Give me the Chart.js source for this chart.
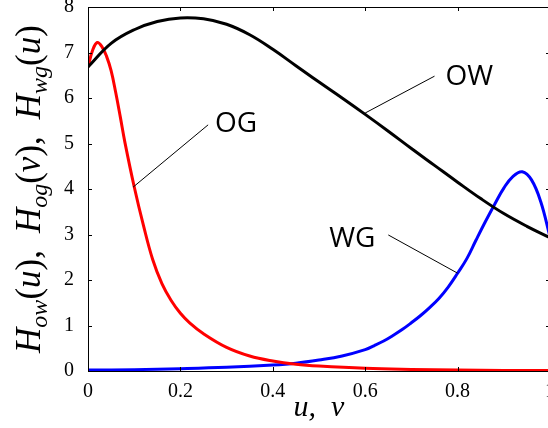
<!DOCTYPE html>
<html>
<head>
<meta charset="utf-8">
<script src="https://cdn.jsdelivr.net/npm/chart.js@4"></script>
<style>
  html, body { margin: 0; padding: 0; background: #fff; overflow: hidden; }
  #wrap { position: absolute; left: 0; top: 0; width: 550px; height: 428px; }
</style>
</head>
<body>
<div id="wrap"><canvas id="chart"></canvas></div>
<script>
// OW curve, H_ow(u)
const owU = [0, 0.05, 0.1, 0.15, 0.2, 0.25, 0.3, 0.35, 0.4, 0.45, 0.5, 0.55, 0.6, 0.65, 0.7, 0.75, 0.8, 0.85, 0.9, 0.95, 1];
const owH = [6.68, 7.20, 7.50, 7.68, 7.76, 7.74, 7.62, 7.39, 7.07, 6.71, 6.35, 6.00, 5.64, 5.27, 4.89, 4.52, 4.15, 3.79, 3.46, 3.18, 2.93];

// OG curve, H_og(v)
const ogV = [0, 0.01, 0.02, 0.03, 0.04, 0.05, 0.06, 0.07, 0.08, 0.1, 0.12, 0.14, 0.16, 0.18, 0.2, 0.22, 0.25, 0.3, 0.35, 0.4, 0.45, 0.5, 0.6, 0.7, 0.8, 0.9, 1];
const ogH = [6.68, 7.05, 7.22, 7.13, 6.92, 6.60, 6.12, 5.58, 5.02, 4.05, 3.20, 2.45, 1.92, 1.55, 1.27, 1.06, 0.82, 0.52, 0.33, 0.22, 0.15, 0.11, 0.06, 0.035, 0.02, 0.01, 0.01];

// WG curve, H_wg(u)
const wgU = [0, 0.1, 0.2, 0.3, 0.4, 0.45, 0.5, 0.55, 0.6, 0.62, 0.64, 0.66, 0.68, 0.7, 0.72, 0.74, 0.76, 0.78, 0.8, 0.82, 0.84, 0.86, 0.88, 0.9, 0.92, 0.94, 0.96, 0.98, 1];
const wgH = [0.02, 0.03, 0.05, 0.08, 0.13, 0.17, 0.24, 0.33, 0.47, 0.56, 0.66, 0.78, 0.91, 1.06, 1.22, 1.40, 1.60, 1.85, 2.15, 2.47, 2.88, 3.28, 3.66, 4.02, 4.28, 4.38, 4.20, 3.72, 2.95];

const xTicks = [0, 0.2, 0.4, 0.6, 0.8, 1];
const yTicks = [0, 1, 2, 3, 4, 5, 6, 7, 8];

// curve labels with their leader lines (data coordinates)
const notes = [
  { text: "OW", tx: 0.774, ty: 6.47, align: "left", from: [0.750, 6.48], to: [0.600, 5.67] },
  { text: "OG", tx: 0.275, ty: 5.43, align: "left", from: [0.260, 5.41], to: [0.0975, 4.04] },
  { text: "WG", tx: 0.622, ty: 2.90, align: "right", from: [0.650, 2.99], to: [0.800, 2.15] }
];

const serif = "'Liberation Serif', 'DejaVu Serif', serif";

const toPts = (xs, ys) => xs.map((x, i) => ({ x, y: ys[i] }));

// box, inward ticks, notes and the y title with subscripts
const framePlugin = {
  id: "frame",
  afterDraw (chart) {
    const { ctx, chartArea: a, scales: { x, y } } = chart;
    ctx.save();
    ctx.strokeStyle = "#000";
    ctx.lineWidth = 1;
    ctx.strokeRect(Math.round(a.left) + 0.5, Math.round(a.top) + 0.5, Math.round(a.right - a.left), Math.round(a.bottom - a.top));

    const tl = 4;
    ctx.beginPath();
    xTicks.forEach((v) => {
      const px = Math.round(x.getPixelForValue(v)) + 0.5;
      ctx.moveTo(px, a.bottom); ctx.lineTo(px, a.bottom - tl);
      ctx.moveTo(px, a.top); ctx.lineTo(px, a.top + tl);
    });
    yTicks.forEach((v) => {
      const py = Math.round(y.getPixelForValue(v)) + 0.5;
      ctx.moveTo(a.left, py); ctx.lineTo(a.left + tl, py);
      ctx.moveTo(a.right, py); ctx.lineTo(a.right - tl, py);
    });
    ctx.stroke();

    // notes
    ctx.font = "28px 'Open Sans', 'DejaVu Sans', sans-serif";
    ctx.fillStyle = "#000";
    ctx.textBaseline = "middle";
    notes.forEach((n) => {
      ctx.beginPath();
      ctx.moveTo(x.getPixelForValue(n.from[0]), y.getPixelForValue(n.from[1]));
      ctx.lineTo(x.getPixelForValue(n.to[0]), y.getPixelForValue(n.to[1]));
      ctx.stroke();
      ctx.textAlign = n.align;
      ctx.fillText(n.text, x.getPixelForValue(n.tx), y.getPixelForValue(n.ty));
    });

    // y title: H_ow(u), H_og(v), H_wg(u)
    const big = "italic 35px " + serif;
    const up = "35px " + serif;
    const sub = "italic 24px " + serif;
    const parts = [];
    [["ow", "u"], ["og", "v"], ["wg", "u"]].forEach(([s, arg], i) => {
      parts.push({ t: "H", f: big, dy: 0 });
      parts.push({ t: s, f: sub, dy: 7 });
      parts.push({ t: "(", f: up, dy: 0 });
      parts.push({ t: arg, f: big, dy: 0 });
      parts.push({ t: ")", f: up, dy: 0 });
      if (i < 2) {
        parts.push({ t: ",", f: up, dy: 0 });
        parts.push({ gap: 17 });
      }
    });
    let total = 0;
    parts.forEach((p) => {
      if (p.gap) { p.w = p.gap; } else { ctx.font = p.f; p.w = ctx.measureText(p.t).width; }
      total += p.w;
    });
    ctx.translate(40, (a.top + a.bottom) / 2);
    ctx.rotate(-Math.PI / 2);
    ctx.textAlign = "left";
    ctx.textBaseline = "alphabetic";
    let cx = -total / 2;
    parts.forEach((p) => {
      if (!p.gap) {
        ctx.font = p.f;
        ctx.fillText(p.t, cx, p.dy);
      }
      cx += p.w;
    });
    ctx.restore();
  }
};

const lineStyle = (color) => ({
  borderColor: color,
  backgroundColor: color,
  borderWidth: 3,
  pointRadius: 0,
  showLine: true,
  fill: false,
  tension: 0.4
});

new Chart(document.getElementById("chart"), {
  type: "scatter",
  data: {
    datasets: [
      { label: "OW", data: toPts(owU, owH), ...lineStyle("#000000") },
      { label: "OG", data: toPts(ogV, ogH), ...lineStyle("#ff0000") },
      { label: "WG", data: toPts(wgU, wgH), ...lineStyle("#0000ff") }
    ]
  },
  options: {
    responsive: true,
    maintainAspectRatio: false,
    animation: false,
    layout: { padding: { top: 7, right: 0, left: 0, bottom: 0 } },
    plugins: {
      legend: { display: false },
      tooltip: { enabled: false }
    },
    scales: {
      x: {
        type: "linear",
        min: 0,
        max: 1,
        grid: { display: false },
        border: { display: false },
        afterBuildTicks: (s) => { s.ticks = xTicks.map((v) => ({ value: v })); },
        afterFit: (s) => { s.height = 57; s.paddingLeft = 0; s.paddingRight = 0; },
        ticks: {
          color: "#000",
          padding: 3,
          maxRotation: 0,
          font: { family: serif, size: 20, lineHeight: 1 },
          callback: (v) => String(Math.round(v * 10) / 10)
        },
        title: {
          display: true,
          text: "u,  v",
          color: "#000",
          padding: { top: 0, bottom: 2 },
          font: { family: serif, size: 30, style: "italic" }
        }
      },
      y: {
        type: "linear",
        min: 0,
        max: 8,
        grid: { display: false },
        border: { display: false },
        afterBuildTicks: (s) => { s.ticks = yTicks.map((v) => ({ value: v })); },
        afterFit: (s) => { s.width = 88; s.paddingTop = 0; s.paddingBottom = 0; },
        ticks: {
          color: "#000",
          padding: 6,
          font: { family: serif, size: 20 },
          callback: (v) => String(v)
        }
      }
    }
  },
  plugins: [framePlugin]
});
</script>
</body>
</html>
